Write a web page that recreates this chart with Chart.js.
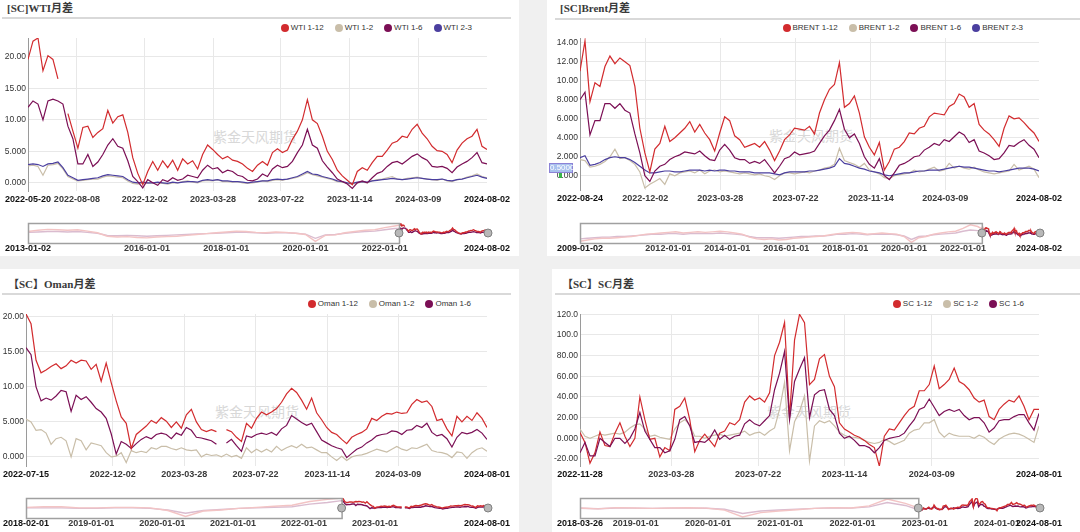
<!DOCTYPE html>
<html>
<head>
<meta charset="utf-8">
<script src="https://cdn.jsdelivr.net/npm/chart.js@4.4.1/dist/chart.umd.min.js"></script>
<style>
  html, body { margin: 0; padding: 0; }
  body { position: relative; width: 1080px; height: 532px; overflow: hidden; background: #f0f0f0;
         font-family: "Liberation Sans", Arial, sans-serif; }
  .panel  { position: absolute; background: #fff; }
  .title  { position: absolute; font: bold 11px "Liberation Serif", "Noto Sans CJK SC", serif; color: #3a3a3a;
            white-space: nowrap; line-height: 12px; }
  .rule   { position: absolute; height: 0; border-top: 2px solid #d9d9d9; }
  .mark   { position: absolute; font: 14px "Noto Sans CJK SC", sans-serif; color: #d8d8d8; white-space: nowrap;
            transform: translate(-50%, -50%); }
  .legend { position: absolute; display: flex; gap: 11px; font: 8px "Liberation Sans", Arial, sans-serif;
            color: #333; line-height: 10px; white-space: nowrap; }
  .legend span { display: flex; align-items: center; }
  .legend i { display: inline-block; width: 8px; height: 8px; border-radius: 50%; margin-right: 2px; }
  canvas { position: absolute; }
  .cross { position: absolute; left: 549px; top: 163px; width: 22px; height: 8px; background: #a9c2ee;
           border: 1px solid #8c82d6; font: 8px "Liberation Sans", Arial, sans-serif; line-height: 8px;
           color: #fff; text-align: center; }
  .cross-dot { position: absolute; left: 559px; top: 173px; width: 3px; height: 5px; background: #39b54a; }
</style>
</head>
<body>
<div class="panel" style="left:0;top:0;width:519px;height:256px"></div>
<div class="panel" style="left:547px;top:0;width:533px;height:256px"></div>
<div class="panel" style="left:0;top:269px;width:519px;height:263px"></div>
<div class="panel" style="left:552px;top:269px;width:528px;height:263px"></div>

<div class="title" style="left:7px;top:2px">[SC]WTI月差</div>
<div class="rule" style="left:2px;top:17px;width:509px"></div>
<div class="title" style="left:560px;top:2px">[SC]Brent月差</div>
<div class="rule" style="left:555px;top:18px;width:525px"></div>
<div class="title" style="left:8px;top:278px">【SC】Oman月差</div>
<div class="rule" style="left:2px;top:293px;width:509px"></div>
<div class="title" style="left:562px;top:278px">【SC】SC月差</div>
<div class="rule" style="left:555px;top:293px;width:525px"></div>

<div class="mark" style="left:255px;top:136px">紫金天风期货</div>
<div class="mark" style="left:811px;top:135px">紫金天风期货</div>
<div class="mark" style="left:257px;top:411px">紫金天风期货</div>
<div class="mark" style="left:809px;top:411px">紫金天风期货</div>

<script>
'use strict';

// ── Colours ──────────────────────────────────────────────────────────────────

const RED    = '#d22b2e';
const BEIGE  = '#c9bea9';
const PURPLE = '#7b0f55';
const BLUE   = '#4b3f9f';

// ── WTI ──────────────────────────────────────────────────────────────────────

const wtiNames = ['WTI 1-12', 'WTI 1-2', 'WTI 1-6', 'WTI 2-3'];
const wti112 = [19.6, 22.5, 23.0, 17.8, 20.2, 19.6, 16.5, null, 11.0, 8.2,
  5.5, 8.8, 9.0, 7.2, 8.0, 8.6, 11.5, 9.5, 10.5, 10.8,
  8.0, 4.0, 1.5, -0.3, 1.8, 3.4, 2.0, 3.5, 2.4, 3.6,
  2.0, 3.8, 3.0, 3.5, 2.2, 4.5, 6.0, 5.3, 4.5, 3.8,
  4.2, 3.6, 3.4, 3.0, 2.3, 1.8, 2.8, 3.4, 2.8, 4.8,
  5.4, 4.8, 5.2, 6.9, 8.2, 10.0, 13.2, 10.0, 9.4, 7.4,
  5.0, 3.7, 2.0, 1.1, 0.4, -0.3, 1.8, 2.4, 2.0, 3.2,
  4.2, 4.2, 5.2, 6.3, 6.6, 7.4, 7.2, 8.5, 9.3, 7.9,
  7.0, 5.8, 5.1, 5.0, 4.5, 3.2, 5.2, 6.3, 7.0, 7.4,
  8.5, 5.8, 5.3];
const wti12 = [2.7, 2.8, 2.6, 1.2, 2.8, 2.9, 3.1, 2.2, 1.0, 0.6,
  0.3, 0.4, 0.5, 0.6, 0.6, 0.9, 1.1, 1.0, 0.9, 0.8,
  0.3, -0.1, -0.2, 0.0, -0.1, 0.0, 0.0, -0.1, -0.2, 0.0,
  0.0, 0.2, 0.3, 0.1, 0.0, 0.3, 0.4, 0.3, 0.5, 0.2,
  0.2, 0.1, 0.2, 0.0, -0.1, 0.0, 0.1, 0.3, 0.2, 0.4,
  0.5, 0.4, 0.6, 0.7, 0.9, 1.2, 1.6, 1.3, 1.1, 0.9,
  0.7, 0.5, 0.2, 0.1, -0.1, -0.2, 0.0, 0.1, 0.0, 0.3,
  0.5, 0.6, 0.8, 1.0, 0.6, 0.5, 0.7, 0.8, 0.9, 0.7,
  0.6, 0.5, 0.4, 0.6, 0.3, 0.2, 0.5, 0.6, 0.9, 1.1,
  1.4, 1.0, 0.8];
const wti16 = [12.0, 13.0, 12.5, 10.0, 13.0, 13.3, 13.0, 12.5, 9.0, 7.0,
  3.0, 3.0, 4.5, 2.6, 3.3, 4.5, 6.0, 7.0, 5.8, 5.5,
  3.5, 1.0, 0.2, -0.8, 0.5, 0.0, -0.4, 0.5, 0.2, 0.8,
  0.4, 0.6, 1.2, 1.0, 0.8, 2.0, 2.8, 2.2, 2.4, 1.6,
  2.0, 1.8, 1.2, 1.0, 0.4, 0.3, 0.6, 1.4, 1.0, 2.2,
  2.8, 2.4, 2.6, 3.4, 4.8, 6.0, 8.5, 6.0, 5.5, 3.5,
  2.5, 1.6, 0.6, 0.2, -0.2, -0.9, 0.0, 0.3, 0.0, 0.8,
  1.5, 1.8, 2.6, 3.2, 3.4, 3.0, 3.6, 4.2, 4.6, 4.0,
  3.6, 2.6, 2.5, 2.6, 2.3, 1.6, 2.5, 3.0, 3.4, 4.0,
  4.8, 3.2, 3.0];
const wti23 = [2.9, 3.0, 2.9, 2.6, 3.0, 3.1, 3.3, 2.4, 1.2, 0.8,
  0.4, 0.5, 0.6, 0.7, 0.8, 1.1, 1.3, 1.2, 1.1, 1.0,
  0.5, 0.1, 0.0, 0.1, 0.0, 0.0, 0.1, 0.0, -0.1, 0.1,
  0.0, 0.1, 0.2, 0.2, 0.1, 0.4, 0.5, 0.4, 0.5, 0.3,
  0.3, 0.2, 0.2, 0.1, 0.0, 0.1, 0.2, 0.3, 0.3, 0.5,
  0.6, 0.5, 0.6, 0.8, 1.0, 1.4, 1.8, 1.4, 1.3, 1.0,
  0.8, 0.6, 0.3, 0.2, 0.0, -0.1, 0.1, 0.2, 0.1, 0.3,
  0.4, 0.5, 0.6, 0.7, 0.6, 0.5, 0.6, 0.7, 0.8, 0.7,
  0.6, 0.5, 0.5, 0.6, 0.4, 0.3, 0.5, 0.6, 0.8, 1.0,
  1.2, 0.9, 0.7];
const wtiTickIdx    = [0, 9.8, 23.4, 37.1, 50.7, 64.5, 78.2, 92];
const wtiTickLabels = ['2022-05-20', '2022-08-08', '2022-12-02', '2023-03-28', '2023-07-22',
                       '2023-11-14', '2024-03-09', '2024-08-02'];
const wtiYTicks = [0, 5, 10, 15, 20];
// navigator: quarterly history before the selected window (years)
const wtiNavHist112 = [5, 8, 10, 9, 8, 9, 6, 2, -6, -8, -7, -9, -10, -8, -7, -6, -4, -2, 0, 2,
  4, 6, 5, 3, 2, 4, 3, 1, -2, -18, -4, -3, 2, 5, 8, 9, 14, 18];
const wtiNavHist16 = [3, 4, 5, 5, 4, 5, 3, 1, -4, -5, -4, -5, -6, -5, -4, -3, -2, -1, 0, 1,
  2, 3, 3, 2, 1, 2, 2, 1, -1, -11, -3, -2, 1, 3, 5, 6, 9, 12];
const wtiNavYears  = { start: 2013.0, sel: 2022.36, end: 2024.58 };
const wtiNavTicks  = [2013.0, 2016, 2018, 2020, 2022, 2024.58];
const wtiNavLabels = ['2013-01-02', '2016-01-01', '2018-01-01', '2020-01-01', '2022-01-01', '2024-08-02'];

// ── Brent ────────────────────────────────────────────────────────────────────

const brentNames = ['BRENT 1-12', 'BRENT 1-2', 'BRENT 1-6', 'BRENT 2-3'];
const brent112 = [11.0, 14.2, 7.8, 9.8, 9.4, 11.5, 12.6, 11.8, 12.4, 12.0,
  11.6, 9.4, 5.0, 2.4, 0.4, 2.8, 3.4, 5.2, 3.6, 4.0,
  4.5, 5.0, 5.7, 4.6, 5.4, 4.5, 3.8, 2.6, 4.5, 6.2,
  5.8, 4.2, 3.8, 3.0, 3.2, 3.4, 3.0, 3.6, 2.7, 1.6,
  2.6, 3.8, 4.3, 5.0, 4.9, 4.8, 5.2, 4.4, 6.6, 8.0,
  9.1, 9.6, 11.9, 7.2, 7.6, 8.4, 6.6, 4.1, 3.0, 2.2,
  3.5, 0.6, 1.5, 2.8, 3.0, 3.6, 4.5, 4.4, 5.0, 5.2,
  6.2, 6.6, 6.5, 6.4, 7.3, 7.6, 8.6, 8.3, 7.2, 7.6,
  5.4, 4.8, 4.4, 3.8, 3.1, 5.0, 6.3, 6.0, 6.1, 5.6,
  5.0, 4.5, 3.6];
const brent12 = [1.7, 1.6, 0.9, 1.0, 1.2, 1.5, 2.0, 2.8, 1.8, 1.9,
  1.6, 1.2, 0.4, -1.3, -0.9, -0.6, -0.3, -0.9, 0.2, 0.0,
  0.3, 0.4, 0.5, 0.3, 0.6, 0.2, 0.5, 0.6, 0.4, 0.5,
  0.4, 0.3, 0.2, 0.3, 0.2, 0.1, 0.2, 0.0, -0.1, -0.4,
  0.0, 0.3, 0.3, 0.2, 0.3, 0.4, 0.3, 0.5, 0.6, 0.8,
  0.9, 1.2, 2.9, 1.6, 1.4, 1.2, 0.9, 1.3, 0.6, 0.4,
  0.2, -0.2, -0.3, 0.0, 0.1, 0.2, 0.3, 0.6, 0.4, 0.5,
  0.7, 0.9, 0.5, 0.6, 1.3, 0.8, 1.0, 0.8, 0.7, 0.9,
  0.6, 0.4, 0.3, 0.2, 0.3, 0.4, 0.5, 1.2, 0.6, 0.8,
  1.0, 0.7, -0.2];
const brent16 = [8.0, 8.8, 4.3, 5.8, 5.8, 7.6, 7.6, 7.1, 7.6, 6.9,
  6.6, 4.4, 2.4, 0.0, -0.6, 0.5, 1.0, 1.2, 1.7, 2.0,
  2.2, 2.5, 2.4, 2.3, 2.6, 2.1, 1.7, 1.6, 2.7, 3.3,
  2.7, 1.9, 1.7, 1.7, 1.3, 1.5, 1.3, 1.7, 1.0, 0.3,
  1.0, 1.8, 2.0, 2.5, 2.2, 2.3, 2.4, 2.6, 3.4, 4.2,
  4.8, 5.8, 7.0, 4.9, 4.0, 4.4, 3.4, 2.0, 1.2, 0.8,
  1.8, 0.0, -0.4, 0.3, 1.1, 1.3, 1.6, 2.0, 2.1, 2.7,
  3.0, 3.4, 3.2, 3.8, 3.6, 4.1, 4.6, 4.3, 3.5, 3.8,
  2.6, 2.4, 2.1, 1.7, 1.8, 2.4, 3.2, 3.1, 3.5, 3.8,
  3.2, 2.8, 1.9];
const brent23 = [1.9, 2.1, 1.1, 1.2, 1.4, 1.7, 1.9, 2.0, 1.9, 1.9,
  1.7, 1.4, 1.0, 0.6, 0.3, 0.3, 0.4, 0.5, 0.5, 0.4,
  0.4, 0.5, 0.6, 0.6, 0.6, 0.5, 0.6, 0.5, 0.6, 0.6,
  0.5, 0.5, 0.4, 0.4, 0.4, 0.3, 0.3, 0.3, 0.3, 0.2,
  0.1, 0.3, 0.4, 0.4, 0.4, 0.4, 0.5, 0.5, 0.6, 0.7,
  0.8, 1.0, 1.8, 1.3, 1.2, 1.0, 0.8, 0.7, 0.5, 0.4,
  0.3, 0.1, 0.0, 0.1, 0.2, 0.3, 0.3, 0.4, 0.5, 0.5,
  0.6, 0.6, 0.6, 0.7, 0.8, 0.9, 1.0, 0.9, 0.9, 0.8,
  0.7, 0.6, 0.5, 0.5, 0.4, 0.5, 0.6, 0.7, 0.8, 0.8,
  0.8, 0.7, 0.5];
const brentTickIdx    = [0, 13.1, 28.1, 43.2, 58.3, 73.2, 92];
const brentTickLabels = ['2022-08-24', '2022-12-02', '2023-03-28', '2023-07-22', '2023-11-14',
                         '2024-03-09', '2024-08-02'];
const brentYTicks = [0, 2, 4, 6, 8, 10, 12, 14];
const brentNavHist112 = [-10, -8, -6, -5, -5, -4, -3, -2, 0, 2, 3, 4, 5, 6, 4, 5, 6, 5, 6, 7,
  6, 4, 2, -3, -6, -7, -6, -8, -7, -5, -4, -3, -2, -1, 1, 3, 4, 5, 4, 2,
  3, 4, 3, 2, -2, -12, -4, -2, 2, 4, 6, 7, 12, 18, 15];
const brentNavHist16 = [-6, -5, -4, -3, -3, -2, -2, -1, 0, 1, 2, 2, 3, 3, 2, 3, 3, 3, 3, 4,
  3, 2, 1, -2, -4, -4, -4, -5, -4, -3, -2, -2, -1, -1, 0, 2, 2, 3, 2, 1,
  2, 2, 2, 1, -1, -7, -2, -1, 1, 2, 3, 4, 7, 9, 8];
const brentNavYears  = { start: 2009.0, sel: 2022.64, end: 2024.58 };
const brentNavTicks  = [2009.0, 2012, 2014, 2016, 2018, 2020, 2022, 2024.58];
const brentNavLabels = ['2009-01-02', '2012-01-01', '2014-01-01', '2016-01-01', '2018-01-01',
                        '2020-01-01', '2022-01-01', '2024-08-02'];

// ── Oman ─────────────────────────────────────────────────────────────────────

const omanNames = ['Oman 1-12', 'Oman 1-2', 'Oman 1-6'];
const oman112 = [20.4, 19.0, 13.8, 12.0, 12.4, 12.9, 13.3, 12.6, 13.0, 13.8,
  13.4, 13.8, 13.7, 12.5, 13.2, 10.8, 13.4, 10.6, 8.0, 5.7,
  4.8, 1.2, 3.2, 3.8, 4.4, 5.2, 4.8, 5.6, 5.1, 4.2,
  5.0, 4.1, 6.0, 6.8, 5.0, 3.9, 3.6, 3.9, 3.6, null,
  3.9, 3.6, 2.8, 2.2, 4.8, 4.1, 5.5, 6.4, 6.0, 6.4,
  6.9, 7.8, 9.0, 9.8, 9.2, 8.1, 6.8, 8.4, 6.3, 5.3,
  4.2, 3.5, 3.2, 2.5, 1.9, 2.8, 3.2, 3.5, 4.0, 5.5,
  5.2, 5.8, 6.2, 6.1, 6.4, 6.2, 6.3, 7.5, 8.2, 7.8,
  8.0, 7.2, 5.2, 5.4, 4.0, 3.0, 5.8, 5.0, 5.8, 5.2,
  6.3, 5.5, 4.2];
const oman12 = [5.4, 5.0, 3.8, 3.9, 3.4, 1.8, 2.6, 2.8, 2.3, 0.0,
  2.6, 2.3, 1.0, 2.0, 1.8, 1.6, 0.6, 0.0, 0.1, 0.6,
  -0.8, 0.9, 0.6, 0.8, 0.6, 1.3, 1.1, 1.5, 1.5, 1.2,
  1.0, 1.3, 1.0, 0.9, 1.0, 0.0, 0.4, 0.2, 0.3, 0.0,
  0.4, 0.0, 0.2, -0.2, 1.3, 0.6, 1.1, 0.7, 1.1, 0.7,
  1.5, 0.9, 1.3, 1.6, 1.3, 1.8, 1.3, 1.4, 1.0, 0.6,
  0.6, 0.0, -0.5, 0.1, -0.5, 0.0, 0.2, 0.3, 0.5, 0.8,
  1.1, 0.9, 0.7, 1.1, 1.5, 1.1, 0.9, 1.3, 1.2, 1.5,
  1.8, 0.9, 0.7, 0.6, 0.4, -0.1, 0.7, 0.6, -0.2, 0.6,
  1.1, 1.3, 0.8];
const oman16 = [15.6, 14.6, 10.0, 8.0, 8.4, 8.1, 8.7, 9.5, 9.3, 6.5,
  8.8, 8.2, 8.6, 7.8, 6.9, 6.4, 5.5, 3.3, 0.4, 2.2,
  1.8, 1.2, 1.9, 2.5, 2.9, 2.6, 3.2, 3.4, 3.2, 2.6,
  3.4, 3.1, 4.2, 3.8, 2.8, 2.7, 2.5, 2.3, 1.8, null,
  2.0, 2.5, 1.6, 0.8, 3.0, 2.8, 3.2, 3.4, 3.2, 3.5,
  3.1, 4.0, 4.5, 5.9, 5.4, 4.9, 4.5, 4.8, 3.6, 2.4,
  2.0, 1.6, 1.3, 1.1, -0.1, 0.5, 1.1, 1.4, 2.0, 2.4,
  3.0, 3.2, 3.3, 3.7, 3.6, 3.2, 3.8, 3.9, 4.5, 4.2,
  4.8, 3.5, 3.0, 3.2, 2.6, 1.4, 2.8, 3.5, 3.3, 3.5,
  3.9, 3.4, 2.5];
const omanTickIdx    = [0, 17.3, 31.6, 45.8, 60.1, 74.3, 92];
const omanTickLabels = ['2022-07-15', '2022-12-02', '2023-03-28', '2023-07-22', '2023-11-14',
                        '2024-03-09', '2024-08-01'];
const omanYTicks = [0, 5, 10, 15, 20];
const omanNavHist112 = [3, 4, 4, 2, 2, 3, 3, 2, -3, -14, -4, -2, 1, 3, 5, 7, 14, 18];
const omanNavHist16  = [2, 2, 2, 1, 1, 2, 2, 1, -2, -8, -3, -1, 1, 2, 3, 4, 9, 12];
const omanNavYears  = { start: 2018.08, sel: 2022.53, end: 2024.58 };
const omanNavTicks  = [2018.08, 2019, 2020, 2021, 2022, 2023, 2024.58];
const omanNavLabels = ['2018-02-01', '2019-01-01', '2020-01-01', '2021-01-01', '2022-01-01',
                       '2023-01-01', '2024-08-01'];

// ── SC ───────────────────────────────────────────────────────────────────────

const scNames = ['SC 1-12', 'SC 1-2', 'SC 1-6'];
const sc112 = [5.5, -4, -24, -14, 6, -7, -8, 5, 15, 2,
  -8, 0, 40, 18, -1, 0, -18, -9, -12, 28,
  31, 39, 18, -13, -2, 4, -2, -8, 5, 7,
  15, 13, 18, 35, 41, 37, 39, 35, 44, 80,
  93, 112, 20, 95, 120, 112, 52, 57, 77, 81,
  60, 50, 15, 9, 6, 3, 1, -2, -6, -9,
  -27, 2, 9, 8, 15, 22, 28, 31, 46, 46,
  52, 70, 48, 52, 57, 68, 55, 52, 47, 39,
  35, 37, 21, 18, 28, 33, 37, 35, 41, 31,
  18, 28, 28];
const sc12 = [9, 2, 0, 2, 4, 3, 4, 5, 4, 6,
  10, 13, 14, 9, 2, 3, 1, 0, -1, 9,
  15, 18, 13, 2, 2, 0, 2, 3, 4, 2,
  3, 4, 5, 7, 3, 5, 6, 3, 7, 10,
  28, 54, -12, 16, 26, 41, -22, 12, 17, 15,
  17, 12, 6, 3, 1, 1, 0, -2, -4, -5,
  -4, -1, -3, -6, -4, -2, 5, 8, 9, 15,
  15, 18, 6, 1, 5, 3, 2, 2, 2, 0,
  3, 1, -3, -6, -1, 2, 4, 5, 4, 2,
  -1, -4, 12];
const sc16 = [-14, -4, -17, -17, 0, -4, -8, 0, 0, -5,
  0, 9, 25, 7, -1, -9, -9, -14, -12, -1,
  18, 21, 12, -4, -3, -4, 0, 8, -1, 3,
  -1, 2, 3, 14, 18, 14, 12, 17, 22, 47,
  63, 84, 18, 55, 67, 78, 20, 42, 46, 47,
  28, 22, 5, 0, 2, -2, -7, -7, -9, -14,
  -9, -2, 0, 1, 2, 5, 12, 18, 28, 30,
  38, 30, 22, 26, 28, 26, 28, 22, 18, 20,
  20, 15, 6, 10, 17, 18, 18, 21, 23, 23,
  15, 8, 24];
const scTickIdx    = [0, 18.3, 35.7, 53.0, 70.5, 92];
const scTickLabels = ['2022-11-28', '2023-03-28', '2023-07-22', '2023-11-14', '2024-03-09', '2024-08-01'];
const scYTicks = [-20, 0, 20, 40, 60, 80, 100, 120];
const scNavHist112 = [5, -5, 10, 5, 0, 5, 8, 3, -20, -100, -50, -30, -15, 0, 10, 5, 30, 110, 60];
const scNavHist16  = [2, -3, 5, 3, 0, 3, 4, 2, -10, -60, -30, -18, -8, 0, 6, 3, 18, 70, 35];
const scNavYears  = { start: 2018.23, sel: 2022.91, end: 2024.58 };
const scNavTicks  = [2018.23, 2019, 2020, 2021, 2022, 2023, 2024, 2024.58];
const scNavLabels = ['2018-03-26', '2019-01-01', '2020-01-01', '2021-01-01', '2022-01-01',
                     '2023-01-01', '2024-01-01', '2024-08-01'];

// ── Layout (page pixels) ─────────────────────────────────────────────────────

const FONT = '"Liberation Sans", Arial, sans-serif';
Chart.defaults.font.family = FONT;

const LAYOUT = {
  wti:   { main: { l: 0,   t: 30,  w: 520, h: 200 }, plot:    { l: 28,  r: 487,  t: 38,  b: 191 },
           nav:  { l: 0,   t: 215, w: 520, h: 40 },  navPlot: { l: 28,  r: 487,  t: 223, b: 243 },
           legend: { right: 608, top: 23 } },
  brent: { main: { l: 548, t: 30,  w: 532, h: 200 }, plot:    { l: 580, r: 1039, t: 38,  b: 190 },
           nav:  { l: 548, t: 215, w: 532, h: 40 },  navPlot: { l: 580, r: 1039, t: 223, b: 243 },
           legend: { right: 57, top: 23 } },
  oman:  { main: { l: 0,   t: 306, w: 520, h: 200 }, plot:    { l: 26,  r: 487,  t: 314, b: 466 },
           nav:  { l: 0,   t: 490, w: 520, h: 42 },  navPlot: { l: 26,  r: 487,  t: 498, b: 518 },
           legend: { right: 609, top: 299 } },
  sc:    { main: { l: 548, t: 306, w: 532, h: 200 }, plot:    { l: 580, r: 1039, t: 314, b: 466 },
           nav:  { l: 548, t: 490, w: 532, h: 42 },  navPlot: { l: 580, r: 1039, t: 498, b: 518 },
           legend: { right: 56, top: 299 } },
};

// ── Helpers ──────────────────────────────────────────────────────────────────

function makeCanvas(box) {
  const c = document.createElement('canvas');
  c.width = box.w;
  c.height = box.h;
  c.style.left = box.l + 'px';
  c.style.top = box.t + 'px';
  c.style.width = box.w + 'px';
  c.style.height = box.h + 'px';
  document.body.appendChild(c);
  return c;
}

function makeLegend(pos, names, colors) {
  const d = document.createElement('div');
  d.className = 'legend';
  d.style.right = pos.right + 'px';
  d.style.top = pos.top + 'px';
  names.forEach((n, i) => {
    const s = document.createElement('span');
    const dot = document.createElement('i');
    dot.style.background = colors[i];
    s.appendChild(dot);
    s.appendChild(document.createTextNode(n));
    d.appendChild(s);
  });
  document.body.appendChild(d);
}

function fixedTicks(values) {
  return scale => { scale.ticks = values.map(v => ({ value: v })); };
}

// ── Main chart ───────────────────────────────────────────────────────────────

function mainChart(g, series, yMin, yMax, yTicks, tickIdx, tickLabels) {
  const { main, plot } = g;
  const last = tickIdx.length - 1;
  const datasets = series.map(s => ({
    label: s.name,
    data: s.values.map((v, i) => ({ x: i, y: v })),
    borderColor: s.color,
    borderWidth: 1.2,
    pointRadius: 0,
    tension: 0,
    spanGaps: false,
    order: s.order,
  }));
  return new Chart(makeCanvas(main), {
    type: 'line',
    data: { datasets },
    options: {
      responsive: false,
      animation: false,
      devicePixelRatio: 1,
      layout: { padding: { left: 0, bottom: 0, top: plot.t - main.t, right: main.l + main.w - plot.r } },
      plugins: { legend: { display: false }, tooltip: { enabled: false } },
      scales: {
        x: {
          type: 'linear',
          min: 0,
          max: series[0].values.length - 1,
          afterFit: s => { s.height = main.t + main.h - plot.b; },
          afterBuildTicks: fixedTicks(tickIdx),
          grid: {
            drawTicks: false,
            color: c => (c.index === 0 || c.index === last) ? 'rgba(0,0,0,0)' : '#e8e8e8',
          },
          border: { display: false },
          ticks: {
            autoSkip: false,
            maxRotation: 0,
            padding: 3,
            callback: (v, i) => tickLabels[i],
            font: { size: 9, weight: 'bold' },
            color: c => (c.index === 0 || c.index === last) ? '#111' : '#3a3a3a',
          },
        },
        y: {
          min: yMin,
          max: yMax,
          afterFit: s => { s.width = plot.l - main.l; },
          afterBuildTicks: fixedTicks(yTicks),
          grid: { drawTicks: false, color: '#e8e8e8' },
          border: { display: true, color: '#9a9a9a' },
          ticks: {
            padding: 2,
            callback: v => Number(v).toPrecision(4),
            font: { size: 8.5 },
            color: '#333',
          },
        },
      },
    },
  });
}

// ── Navigator ────────────────────────────────────────────────────────────────

const navMask = {
  id: 'navMask',
  afterDatasetsDraw(chart, args, opts) {
    const { ctx, chartArea: a, scales: { x } } = chart;
    const sx = x.getPixelForValue(opts.sel);
    const mid = (a.top + a.bottom) / 2;
    ctx.save();
    ctx.fillStyle = 'rgba(255,255,255,0.72)';
    ctx.fillRect(a.left, a.top, sx - a.left, a.bottom - a.top);
    ctx.strokeStyle = '#a0a0a0';
    ctx.lineWidth = 1.5;
    ctx.strokeRect(a.left + 0.5, a.top + 0.5, sx - a.left, a.bottom - a.top);
    for (const hx of [sx, a.right + 1]) {
      ctx.beginPath();
      ctx.arc(hx, mid, 4, 0, Math.PI * 2);
      ctx.fillStyle = '#b8b8b8';
      ctx.fill();
      ctx.strokeStyle = '#808080';
      ctx.lineWidth = 1;
      ctx.stroke();
    }
    ctx.restore();
  },
};

function navPoints(hist, main, yrs) {
  const step = (yrs.end - yrs.sel) / (main.length - 1);
  return hist.map((v, i) => ({ x: yrs.start + i * 0.25, y: v }))
    .concat(main.map((v, i) => ({ x: yrs.sel + i * step, y: v })));
}

function navChart(g, lines, yrs, yMin, yMax, ticks, labels) {
  const { nav, navPlot: p } = g;
  const last = ticks.length - 1;
  return new Chart(makeCanvas(nav), {
    type: 'line',
    data: {
      datasets: lines.map(l => ({
        data: navPoints(l.hist, l.main, yrs),
        borderColor: l.color,
        borderWidth: 1.4,
        pointRadius: 0,
        tension: 0,
        spanGaps: false,
      })),
    },
    plugins: [navMask],
    options: {
      responsive: false,
      animation: false,
      devicePixelRatio: 1,
      layout: { padding: { left: p.l - nav.l, right: nav.l + nav.w - p.r, top: p.t - nav.t, bottom: 0 } },
      plugins: { legend: { display: false }, tooltip: { enabled: false }, navMask: { sel: yrs.sel } },
      scales: {
        x: {
          type: 'linear',
          min: yrs.start,
          max: yrs.end,
          afterFit: s => { s.height = nav.t + nav.h - p.b; },
          afterBuildTicks: fixedTicks(ticks),
          grid: { display: false, drawTicks: false },
          border: { display: false },
          ticks: {
            autoSkip: false,
            maxRotation: 0,
            padding: 0,
            callback: (v, i) => labels[i],
            font: { size: 9, weight: 'bold' },
            color: c => (c.index === 0 || c.index === last) ? '#111' : '#3a3a3a',
          },
        },
        y: { display: false, min: yMin, max: yMax },
      },
    },
  });
}

// ── Build ────────────────────────────────────────────────────────────────────

makeLegend(LAYOUT.wti.legend, wtiNames, [RED, BEIGE, PURPLE, BLUE]);
makeLegend(LAYOUT.brent.legend, brentNames, [RED, BEIGE, PURPLE, BLUE]);
makeLegend(LAYOUT.oman.legend, omanNames, [RED, BEIGE, PURPLE]);
makeLegend(LAYOUT.sc.legend, scNames, [RED, BEIGE, PURPLE]);

mainChart(LAYOUT.wti, [
  { name: wtiNames[0], values: wti112, color: RED,    order: 0 },
  { name: wtiNames[1], values: wti12,  color: BEIGE,  order: 3 },
  { name: wtiNames[2], values: wti16,  color: PURPLE, order: 1 },
  { name: wtiNames[3], values: wti23,  color: BLUE,   order: 2 },
], -1.3, 23.0, wtiYTicks, wtiTickIdx, wtiTickLabels);

mainChart(LAYOUT.brent, [
  { name: brentNames[0], values: brent112, color: RED,    order: 0 },
  { name: brentNames[1], values: brent12,  color: BEIGE,  order: 3 },
  { name: brentNames[2], values: brent16,  color: PURPLE, order: 1 },
  { name: brentNames[3], values: brent23,  color: BLUE,   order: 2 },
], -1.5, 14.5, brentYTicks, brentTickIdx, brentTickLabels);

mainChart(LAYOUT.oman, [
  { name: omanNames[0], values: oman112, color: RED,    order: 0 },
  { name: omanNames[1], values: oman12,  color: BEIGE,  order: 2 },
  { name: omanNames[2], values: oman16,  color: PURPLE, order: 1 },
], -1.3, 20.4, omanYTicks, omanTickIdx, omanTickLabels);

mainChart(LAYOUT.sc, [
  { name: scNames[0], values: sc112, color: RED,    order: 1 },
  { name: scNames[1], values: sc12,  color: BEIGE,  order: 2 },
  { name: scNames[2], values: sc16,  color: PURPLE, order: 0 },
], -26.8, 120.3, scYTicks, scTickIdx, scTickLabels);

navChart(LAYOUT.wti, [
  { hist: wtiNavHist112, main: wti112, color: RED },
  { hist: wtiNavHist16,  main: wti16,  color: PURPLE },
], wtiNavYears, -22, 25, wtiNavTicks, wtiNavLabels);

navChart(LAYOUT.brent, [
  { hist: brentNavHist112, main: brent112, color: RED },
  { hist: brentNavHist16,  main: brent16,  color: PURPLE },
], brentNavYears, -13, 21, brentNavTicks, brentNavLabels);

navChart(LAYOUT.oman, [
  { hist: omanNavHist112, main: oman112, color: RED },
  { hist: omanNavHist16,  main: oman16,  color: PURPLE },
], omanNavYears, -17, 20.5, omanNavTicks, omanNavLabels);

navChart(LAYOUT.sc, [
  { hist: scNavHist112, main: sc112, color: RED },
  { hist: scNavHist16,  main: sc16,  color: PURPLE },
], scNavYears, -113, 123, scNavTicks, scNavLabels);
</script>
<div class="cross">0.5000</div>
<div class="cross-dot"></div>
</body>
</html>
